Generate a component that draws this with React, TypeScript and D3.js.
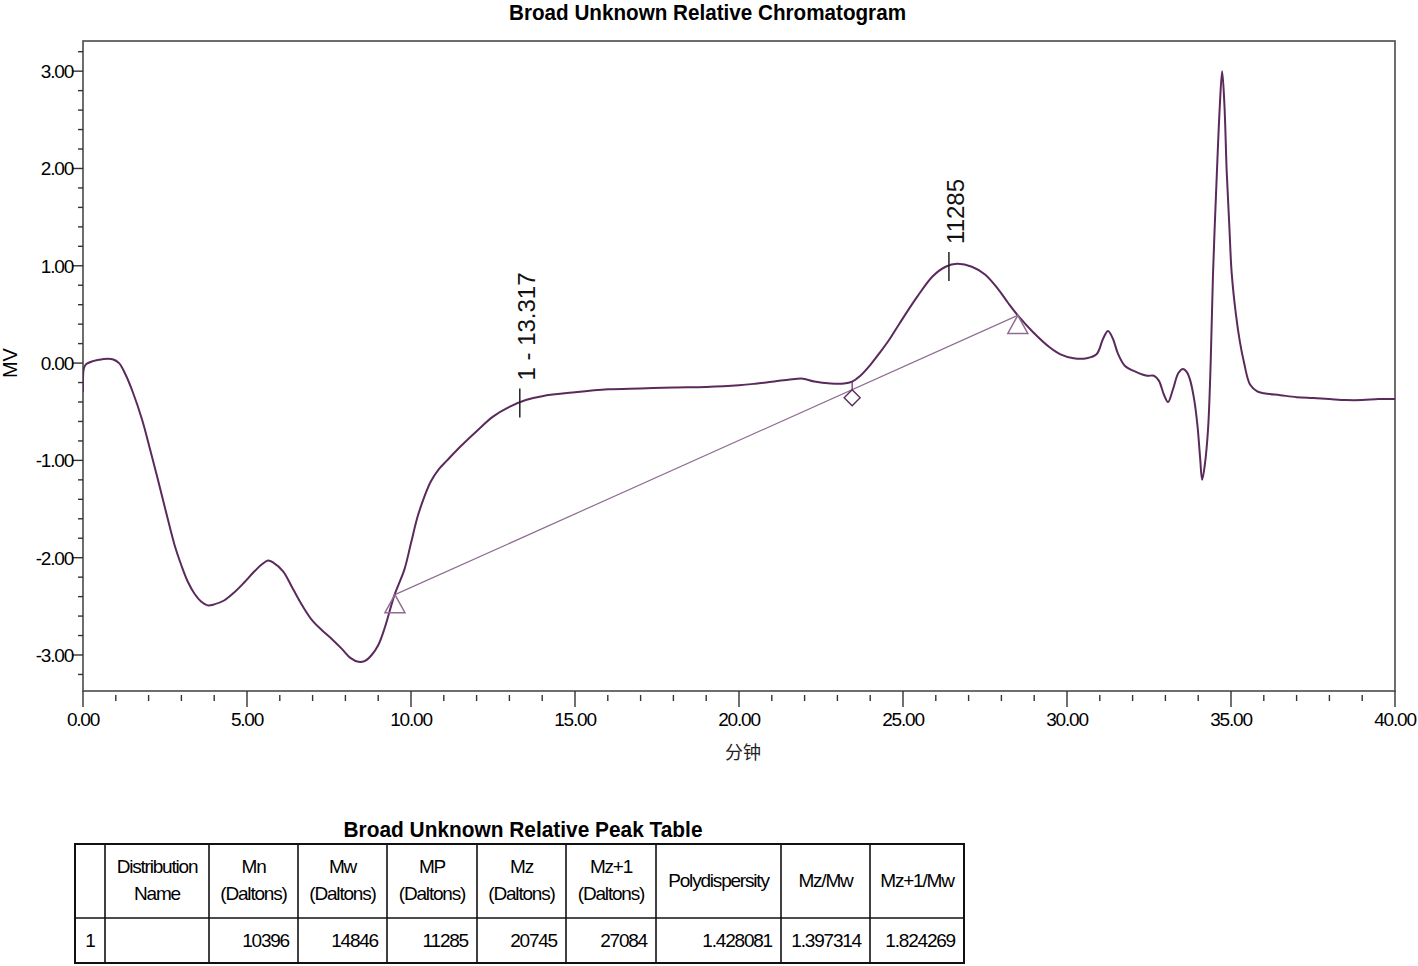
import React from "react";
import * as d3 from "d3";

// ---- data ----
const times = [
  0.0, 0.03, 0.1, 0.3, 0.6, 0.9, 1.1, 1.3, 1.52, 1.8, 2.04, 2.3, 2.56, 2.8, 3.0, 3.2, 3.4, 3.6, 3.8, 4.0,
  4.3, 4.6, 4.9, 5.2, 5.45, 5.64, 5.8, 6.1, 6.4, 6.7, 7.0, 7.3, 7.6, 7.9, 8.15, 8.4, 8.6, 8.8, 9.0, 9.2,
  9.5, 9.8, 10.0, 10.2, 10.4, 10.6, 10.85, 11.1, 11.5, 12.0, 12.5, 13.0, 13.5, 14.0, 15.0, 16.0, 17.0, 18.0,
  19.0, 20.0, 20.5, 21.0, 21.5, 21.95, 22.3, 22.8, 23.2, 23.45, 23.7, 24.0, 24.3, 24.6, 24.9, 25.43, 25.9, 26.3, 26.65,
  27.1, 27.5, 27.9, 28.2, 28.5, 28.96, 29.48, 29.8, 30.2, 30.6, 30.9, 31.1, 31.25, 31.4, 31.55, 31.77, 32.1,
  32.44, 32.65, 32.8, 32.95, 33.08, 33.23, 33.4, 33.54, 33.65, 33.75, 33.88, 33.98, 34.06, 34.12, 34.2, 34.3,
  34.38, 34.45, 34.57, 34.66, 34.73, 34.8, 34.87, 34.95, 35.02, 35.15, 35.27, 35.4, 35.58, 35.8, 36.0, 36.5,
  37.0, 37.5, 38.0, 38.5, 39.0, 39.5, 40.0,
];
const signal = [
  -0.3, -0.05, -0.01, 0.02, 0.04, 0.04, 0.0, -0.12, -0.3, -0.58, -0.88, -1.22, -1.57, -1.88, -2.08, -2.25, -2.37, -2.45, -2.49, -2.48,
  -2.44, -2.36, -2.26, -2.15, -2.07, -2.03, -2.05, -2.14, -2.32, -2.5, -2.65, -2.75, -2.84, -2.94, -3.03, -3.07, -3.06, -3.0, -2.9, -2.72,
  -2.38, -2.12, -1.85, -1.58, -1.38, -1.22, -1.09, -1.0, -0.86, -0.7, -0.55, -0.45, -0.38, -0.34, -0.3, -0.27, -0.26, -0.25,
  -0.245, -0.228, -0.212, -0.192, -0.172, -0.16, -0.19, -0.21, -0.21, -0.19, -0.13, -0.02, 0.11, 0.25, 0.41, 0.68, 0.89, 0.99, 1.02,
  0.99, 0.91, 0.76, 0.62, 0.49, 0.32, 0.16, 0.09, 0.05, 0.05, 0.09, 0.25, 0.33, 0.25, 0.1, -0.03, -0.09,
  -0.13, -0.13, -0.18, -0.32, -0.4, -0.27, -0.1, -0.06, -0.09, -0.17, -0.38, -0.65, -0.98, -1.2, -1.05, -0.68,
  0.0, 0.9, 1.96, 2.65, 3.0, 2.65, 1.96, 1.4, 0.93, 0.5, 0.22, 0.0, -0.22, -0.29, -0.31, -0.33,
  -0.35, -0.36, -0.37, -0.38, -0.38, -0.37, -0.37,
];

const baselineTimes = [9.51, 28.5];
const baselineValues = [-2.38, 0.49];
const dropTime = 23.45;
const peakMarkers = [
  { time: 13.317, label: "1 - 13.317" },
  { time: 26.4, label: "11285" },
];

const xMajorTicks = [0, 5, 10, 15, 20, 25, 30, 35, 40];
const yMajorTicks = [3, 2, 1, 0, -1, -2, -3];

const headerLine1 = ["", "Distribution", "Mn", "Mw", "MP", "Mz", "Mz+1", "Polydispersity", "Mz/Mw", "Mz+1/Mw"];
const headerLine2 = ["", "Name", "(Daltons)", "(Daltons)", "(Daltons)", "(Daltons)", "(Daltons)", "", "", ""];
const rowValues = ["1", "", "10396", "14846", "11285", "20745", "27084", "1.428081", "1.397314", "1.824269"];

// ---- layout ----
const W = 1418;
const H = 966;
const PL = 83, PR = 1395, PT = 41, PB = 691;
const colEdges = [75, 105, 209, 298, 387, 477, 566, 656, 781, 870, 964];
const tableTop = 844, headerBottom = 918, tableBottom = 963;

const FONT = "'Liberation Sans', Arial, Helvetica, sans-serif";
const CURVE = "#5a2a5c";
const BASE = "#8f6c91";

export default function App() {
  const x = d3.scaleLinear().domain([0, 40]).range([PL, PR]);
  const y = d3.scaleLinear().domain([-3.37, 3.31]).range([PB, PT]);

  const pts: [number, number][] = times.map((t, i) => [t, signal[i]]);
  const line = d3
    .line<[number, number]>()
    .x((d) => x(d[0]))
    .y((d) => y(d[1]))
    .curve(d3.curveCatmullRom.alpha(0.5));

  const valueAt = (t: number) => {
    const i = d3.bisectLeft(times, t);
    if (i <= 0) return signal[0];
    if (i >= times.length) return signal[signal.length - 1];
    const t0 = times[i - 1], t1 = times[i];
    const f = (t - t0) / (t1 - t0);
    return signal[i - 1] + f * (signal[i] - signal[i - 1]);
  };
  const baseAt = (t: number) =>
    baselineValues[0] +
    ((t - baselineTimes[0]) / (baselineTimes[1] - baselineTimes[0])) * (baselineValues[1] - baselineValues[0]);

  const xMinor = d3.range(0, 41);
  const yMinor = d3.range(-16, 17).map((i) => i / 5);

  const dropX = x(dropTime);
  const dropCurveY = y(valueAt(dropTime));
  const dropBaseY = y(baseAt(dropTime));

  const tickLabelStyle: React.CSSProperties = { fontFamily: FONT, fontSize: 19, letterSpacing: "-1.2px" };

  return (
    <svg
      width={W}
      height={H}
      viewBox={`0 0 ${W} ${H}`}
      style={{ position: "absolute", left: 0, top: 0, background: "#fff" }}
    >
      <rect x={0} y={0} width={W} height={H} fill="#fff" />
      <defs>
        <clipPath id="plotClip">
          <rect x={PL} y={PT} width={PR - PL} height={PB - PT} />
        </clipPath>
      </defs>

      {/* title */}
      <text
        x={707.5}
        y={20}
        textAnchor="middle"
        fontFamily={FONT}
        fontWeight="bold"
        fontSize={22}
        textLength={397}
        lengthAdjust="spacingAndGlyphs"
        fill="#000"
      >
        Broad Unknown Relative Chromatogram
      </text>

      {/* frame */}
      <rect x={PL} y={PT} width={PR - PL} height={PB - PT} fill="none" stroke="#4a4a4a" strokeWidth={1.6} />

      {/* y ticks */}
      {yMinor.map((v) => {
        const major = Math.abs(v - Math.round(v)) < 1e-6;
        return (
          <line
            key={"yt" + v}
            x1={major ? PL - 10 : PL - 5}
            x2={PL}
            y1={y(v)}
            y2={y(v)}
            stroke="#333"
            strokeWidth={1.4}
          />
        );
      })}
      {yMajorTicks.map((v) => (
        <text key={"yl" + v} x={PL - 10} y={y(v) + 7} textAnchor="end" style={tickLabelStyle} fill="#000">
          {v.toFixed(2)}
        </text>
      ))}
      <text
        transform={`translate(17,${y(0)}) rotate(-90)`}
        textAnchor="middle"
        fontFamily={FONT}
        fontSize={20}
        fill="#000"
      >
        MV
      </text>

      {/* x ticks */}
      {xMinor.map((t) => {
        const major = t % 5 === 0;
        return (
          <line
            key={"xt" + t}
            x1={x(t)}
            x2={x(t)}
            y1={major ? PB : PB + 4}
            y2={major ? PB + 16 : PB + 10}
            stroke="#333"
            strokeWidth={1.4}
          />
        );
      })}
      {xMajorTicks.map((t) => (
        <text key={"xl" + t} x={x(t)} y={726} textAnchor="middle" style={tickLabelStyle} fill="#000">
          {t.toFixed(2)}
        </text>
      ))}
      <text x={743} y={759} textAnchor="middle" fontFamily="'Noto Sans CJK SC', sans-serif" fontSize={18} fill="#222">
        分钟
      </text>

      {/* plot content */}
      <g clipPath="url(#plotClip)">
        <line
          x1={x(baselineTimes[0])}
          y1={y(baselineValues[0])}
          x2={x(baselineTimes[1])}
          y2={y(baselineValues[1])}
          stroke={BASE}
          strokeWidth={1.2}
        />
        <path d={line(pts) || ""} fill="none" stroke={CURVE} strokeWidth={2} />
        {/* drop line + diamond */}
        <line x1={dropX} x2={dropX} y1={dropCurveY} y2={dropBaseY} stroke={CURVE} strokeWidth={1.2} />
        <path
          d={`M${dropX},${dropBaseY} L${dropX + 8},${dropBaseY + 8} L${dropX},${dropBaseY + 16} L${dropX - 8},${dropBaseY + 8} Z`}
          fill="none"
          stroke={CURVE}
          strokeWidth={1.4}
        />
        {/* triangles at baseline ends */}
        {baselineTimes.map((t, i) => {
          const px = x(t);
          const py = y(baselineValues[i]);
          return (
            <path
              key={"tri" + i}
              d={`M${px},${py} L${px + 10},${py + 18} L${px - 10},${py + 18} Z`}
              fill="none"
              stroke={BASE}
              strokeWidth={1.5}
            />
          );
        })}
        {/* peak markers */}
        {peakMarkers.map((m) => {
          const px = x(m.time);
          const py = y(valueAt(m.time));
          return (
            <g key={m.label}>
              <line x1={px} x2={px} y1={py - 14} y2={py + 15} stroke="#222" strokeWidth={1.5} />
              <text
                transform={`translate(${px + 15},${py - 22}) rotate(-90)`}
                fontFamily={FONT}
                fontSize={24}
                fill="#111"
              >
                {m.label}
              </text>
            </g>
          );
        })}
      </g>

      {/* peak table */}
      <text
        x={523}
        y={837}
        textAnchor="middle"
        fontFamily={FONT}
        fontWeight="bold"
        fontSize={22}
        textLength={359}
        lengthAdjust="spacingAndGlyphs"
        fill="#000"
      >
        Broad Unknown Relative Peak Table
      </text>
      <rect
        x={colEdges[0]}
        y={tableTop}
        width={colEdges[colEdges.length - 1] - colEdges[0]}
        height={tableBottom - tableTop}
        fill="none"
        stroke="#111"
        strokeWidth={2}
      />
      <line x1={colEdges[0]} x2={colEdges[colEdges.length - 1]} y1={headerBottom} y2={headerBottom} stroke="#111" strokeWidth={1.6} />
      {colEdges.slice(1, -1).map((cx, i) => (
        <line key={"col" + i} x1={cx} x2={cx} y1={tableTop} y2={tableBottom} stroke="#111" strokeWidth={1.6} />
      ))}
      {headerLine1.map((h, i) => {
        const cx = (colEdges[i] + colEdges[i + 1]) / 2;
        const two = headerLine2[i] !== "";
        return (
          <g key={"h" + i}>
            <text x={cx} y={two ? 873 : 887} textAnchor="middle" style={tickLabelStyle} fill="#000">
              {h}
            </text>
            {two && (
              <text x={cx} y={900} textAnchor="middle" style={tickLabelStyle} fill="#000">
                {headerLine2[i]}
              </text>
            )}
          </g>
        );
      })}
      {rowValues.map((v, i) => {
        const first = i === 0;
        const tx = first ? (colEdges[0] + colEdges[1]) / 2 : colEdges[i + 1] - 9;
        return (
          <text
            key={"r" + i}
            x={tx}
            y={947}
            textAnchor={first ? "middle" : "end"}
            style={tickLabelStyle}
            fill="#000"
          >
            {v}
          </text>
        );
      })}
    </svg>
  );
}
